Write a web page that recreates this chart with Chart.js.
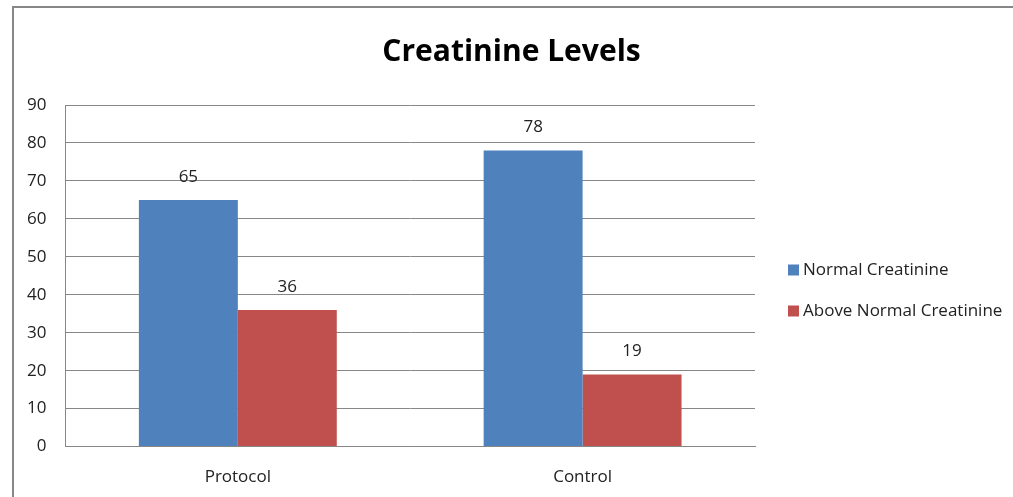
<!DOCTYPE html>
<html>
<head>
<meta charset="utf-8">
<script src="https://cdn.jsdelivr.net/npm/chart.js@4/dist/chart.umd.min.js"></script>
<style>
  html, body { margin: 0; padding: 0; background: #fff; overflow: hidden; }
  #frame {
    position: absolute; left: 12px; top: 6px; width: 1001px; height: 491px;
    border-left: 2px solid #878787; border-top: 2px solid #878787;
  }
  #wrap { position: absolute; left: 0; top: 0; width: 1001px; height: 491px; }
</style>
</head>
<body>
<div id="frame"><div id="wrap"><canvas id="chart"></canvas></div></div>
<script>
let categories = ['Protocol', 'Control'];
let normal_values = [65, 78];
let above_values = [36, 19];
let series_names = ['Normal Creatinine', 'Above Normal Creatinine'];
let FONT = "'Open Sans', 'Noto Sans', sans-serif";

// draws the value above each bar
let value_labels = {
    id: 'value_labels',
    afterDatasetsDraw: function(chart) {
        let ctx = chart.ctx;
        ctx.save();
        ctx.font = '17px ' + FONT;
        ctx.fillStyle = '#222';
        ctx.textAlign = 'center';
        ctx.textBaseline = 'middle';
        chart.data.datasets.forEach(function(ds, i) {
            chart.getDatasetMeta(i).data.forEach(function(bar, j) {
                ctx.fillText(ds.data[j], bar.x, bar.y - 23);
            });
        });
        ctx.restore();
    }
};

// legend to the right of the plot, like the Excel one
let side_legend = {
    id: 'side_legend',
    afterDraw: function(chart) {
        let ctx = chart.ctx;
        let x = chart.chartArea.right + 33;
        let y = 262;
        ctx.save();
        ctx.font = '17px ' + FONT;
        ctx.textBaseline = 'middle';
        chart.data.datasets.forEach(function(ds, i) {
            ctx.fillStyle = ds.backgroundColor;
            ctx.fillRect(x, y + i * 41 - 5.5, 11, 11);
            ctx.fillStyle = '#222';
            ctx.fillText(ds.label, x + 15, y + i * 41);
        });
        ctx.restore();
    }
};

let chart_element = document.getElementById('chart');
let chart = new Chart(chart_element, {
    type: 'bar',
    plugins: [value_labels, side_legend],
    data: {
        labels: categories,
        datasets: [
            { label: series_names[0], data: normal_values, backgroundColor: '#4f81bd' },
            { label: series_names[1], data: above_values, backgroundColor: '#c0504d' }
        ]
    },
    options: {
        responsive: true,
        maintainAspectRatio: false,
        animation: false,
        layout: { padding: { left: -6, right: 0, top: 0, bottom: -8 } },
        datasets: { bar: { categoryPercentage: 0.574, barPercentage: 1 } },
        plugins: {
            title: {
                display: true,
                text: 'Creatinine Levels',
                color: '#000',
                font: { family: FONT, size: 30, weight: 'bold' },
                padding: { top: 26, bottom: 35 }
            },
            legend: { display: false },
            tooltip: { enabled: false }
        },
        scales: {
            x: {
                grid: { display: false, drawTicks: false },
                border: { color: '#878787' },
                ticks: { color: '#222', padding: 20, font: { family: FONT, size: 17 } }
            },
            y: {
                min: 0, max: 90,
                ticks: { stepSize: 10, color: '#222', padding: 19, font: { family: FONT, size: 17 } },
                grid: { color: '#878787', drawTicks: false },
                border: { color: '#878787' }
            },
            // empty axis that only keeps room for the legend on the right
            room: {
                type: 'linear',
                position: 'right',
                grid: { display: false, drawTicks: false },
                border: { display: false },
                ticks: { display: false },
                afterFit: function(scale) { scale.width = 260; }
            }
        }
    }
});
</script>
</body>
</html>
